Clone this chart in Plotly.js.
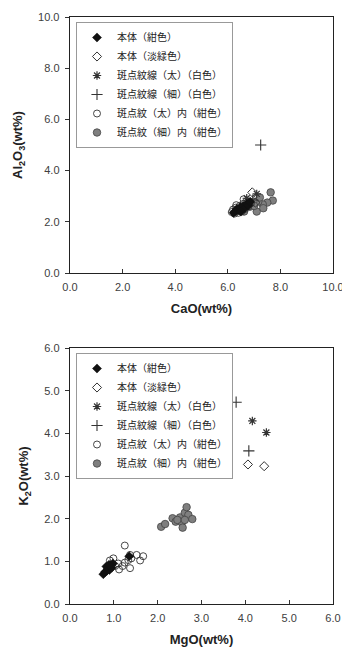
<!DOCTYPE html>
<html>
<head>
<meta charset="utf-8">
<script src="https://cdn.plot.ly/plotly-3.0.1.min.js"></script>
<style>html,body{margin:0;padding:0;background:#fff;}#chart{width:342px;height:650px;}</style>
</head>
<body>
<div id="chart"></div>
<script>
// Series names
const seriesNames = ["本体（紺色）", "本体（淡緑色）", "斑点紋線（太）（白色）", "斑点紋線（細）（白色）", "斑点紋（太）内（紺色）", "斑点紋（細）内（紺色）"];

// Top chart: CaO vs Al2O3
const caoNavy = [6.22, 6.30, 6.35, 6.42, 6.48, 6.55, 6.60, 6.66, 6.72, 6.78, 6.85, 6.50];
const al2o3Navy = [2.35, 2.42, 2.50, 2.45, 2.58, 2.52, 2.62, 2.55, 2.70, 2.64, 2.78, 2.40];
const caoGreen = [6.93, 7.05];
const al2o3Green = [3.15, 2.75];
const caoThickLine = [7.10, 6.72];
const al2o3ThickLine = [3.09, 2.92];
const caoThinLine = [7.25, 6.95];
const al2o3ThinLine = [5.00, 2.85];
const caoThickSpot = [6.15, 6.20, 6.25, 6.30, 6.38, 6.45, 6.52, 6.58, 6.65, 6.70, 6.78, 6.88, 6.40, 6.32, 6.60];
const al2o3ThickSpot = [2.38, 2.48, 2.32, 2.55, 2.45, 2.62, 2.40, 2.70, 2.50, 2.80, 2.60, 2.72, 2.35, 2.65, 2.88];
const caoThinSpot = [7.63, 7.71, 7.50, 7.33, 7.16, 7.10, 6.84, 6.62, 7.35, 6.97, 6.34, 7.00, 7.22];
const al2o3ThinSpot = [3.15, 2.83, 2.75, 2.68, 2.79, 2.40, 2.59, 2.40, 2.53, 2.79, 2.43, 2.62, 2.95];

// Bottom chart: MgO vs K2O
const mgoNavy = [0.76, 0.80, 0.84, 0.86, 0.88, 0.90, 0.92, 0.95, 0.98, 0.83, 0.89, 1.35];
const k2oNavy = [0.70, 0.75, 0.78, 0.82, 0.86, 0.80, 0.90, 0.85, 0.95, 0.88, 0.92, 1.12];
const mgoGreen = [4.06, 4.43];
const k2oGreen = [3.27, 3.23];
const mgoThickLine = [4.16, 4.48];
const k2oThickLine = [4.29, 4.02];
const mgoThinLine = [3.79, 4.08];
const k2oThinLine = [4.73, 3.59];
const mgoThickSpot = [1.25, 1.37, 1.52, 1.67, 1.60, 1.37, 1.25, 1.10, 0.99, 1.20, 1.03, 0.91, 1.12, 1.40, 1.33];
const k2oThickSpot = [1.37, 1.15, 1.15, 1.12, 1.02, 0.84, 0.97, 0.95, 1.07, 0.89, 0.89, 1.02, 0.81, 1.07, 1.03];
const mgoThinSpot = [2.08, 2.17, 2.34, 2.41, 2.51, 2.55, 2.57, 2.62, 2.66, 2.70, 2.79, 2.45, 2.62];
const k2oThinSpot = [1.81, 1.875, 2.01, 1.93, 2.03, 1.91, 1.79, 2.14, 2.27, 2.09, 1.99, 1.97, 1.97];

const xTicksTop = [0, 2, 4, 6, 8, 10];
const xTickLabelsTop = ["0.0", "2.0", "4.0", "6.0", "8.0", "10.0"];
const yTicksTop = [0, 2, 4, 6, 8, 10];
const yTickLabelsTop = ["0.0", "2.0", "4.0", "6.0", "8.0", "10.0"];
const xTicksBot = [0, 1, 2, 3, 4, 5, 6];
const xTickLabelsBot = ["0.0", "1.0", "2.0", "3.0", "4.0", "5.0", "6.0"];
const yTicksBot = [0, 1, 2, 3, 4, 5, 6];
const yTickLabelsBot = ["0.0", "1.0", "2.0", "3.0", "4.0", "5.0", "6.0"];

const styles = [
  {symbol: "diamond", color: "#111", size: 7, line: {color: "#111", width: 0.5}},
  {symbol: "diamond-open", color: "#333", size: 7, line: {color: "#333", width: 1}},
  {symbol: "asterisk-open", color: "#333", size: 7, line: {color: "#333", width: 1.2}},
  {symbol: "cross-thin-open", color: "#333", size: 8, line: {color: "#333", width: 1.1}},
  {symbol: "circle-open", color: "#333", size: 7, line: {color: "#333", width: 0.9}},
  {symbol: "circle", color: "#7f7f7f", size: 7.5, line: {color: "#444", width: 0.8}}
];

const topX = [caoNavy, caoGreen, caoThickLine, caoThinLine, caoThickSpot, caoThinSpot];
const topY = [al2o3Navy, al2o3Green, al2o3ThickLine, al2o3ThinLine, al2o3ThickSpot, al2o3ThinSpot];
const botX = [mgoNavy, mgoGreen, mgoThickLine, mgoThinLine, mgoThickSpot, mgoThinSpot];
const botY = [k2oNavy, k2oGreen, k2oThickLine, k2oThinLine, k2oThickSpot, k2oThinSpot];

const traces = [];
// draw order: gray and open circles first so dark markers sit on top
const order = [5, 4, 1, 2, 3, 0];
order.forEach(i => {
  traces.push({
    type: "scatter", mode: "markers", name: seriesNames[i],
    x: topX[i], y: topY[i], xaxis: "x", yaxis: "y",
    legend: "legend", legendrank: i + 1,
    marker: {symbol: styles[i].symbol, color: styles[i].color, size: styles[i].size, line: styles[i].line}
  });
});
order.forEach(i => {
  traces.push({
    type: "scatter", mode: "markers", name: seriesNames[i],
    x: botX[i], y: botY[i], xaxis: "x2", yaxis: "y2",
    legend: "legend2", legendrank: i + 1,
    marker: {symbol: styles[i].symbol, color: styles[i].color, size: styles[i].size, line: styles[i].line}
  });
});

const tickFont = {family: "Liberation Sans, Arial, sans-serif", size: 11, color: "#404040"};
const titleFont = {family: "Liberation Sans, Arial, sans-serif", size: 13, color: "#222", weight: "bold"};
const legendFont = {family: "Noto Sans CJK JP, sans-serif", size: 10, color: "#222"};

function xAxis(ticks, labels, range, title, anchor) {
  return {
    domain: [70/342, 333/342], anchor: anchor, range: range,
    tickmode: "array", tickvals: ticks, ticktext: labels,
    ticks: "inside", ticklen: 4, tickcolor: "#333", tickwidth: 1,
    ticklabeloverflow: "allow", ticklabelstandoff: 3,
    showline: true, linecolor: "#222", linewidth: 1.3, mirror: true,
    showgrid: false, zeroline: false, tickfont: tickFont,
    title: {text: title, font: titleFont, standoff: 12}
  };
}
function yAxis(domain, ticks, labels, range, title, anchor) {
  return {
    domain: domain, anchor: anchor, range: range,
    tickmode: "array", tickvals: ticks, ticktext: labels,
    ticks: "outside", ticklen: 4, tickcolor: "#333", tickwidth: 1,
    ticklabeloverflow: "allow", ticklabelstandoff: 3,
    showline: true, linecolor: "#222", linewidth: 1.3, mirror: true,
    showgrid: false, zeroline: false, tickfont: tickFont,
    title: {text: title, font: titleFont, standoff: 12}
  };
}

const layout = {
  width: 342, height: 650,
  margin: {l: 0, r: 0, t: 0, b: 0},
  paper_bgcolor: "#fff", plot_bgcolor: "#fff",
  showlegend: true,
  xaxis: xAxis(xTicksTop, xTickLabelsTop, [0, 10], "CaO(wt%)", "y"),
  yaxis: yAxis([(650-273)/650, (650-17)/650], yTicksTop, yTickLabelsTop, [0, 10], "Al<sub>2</sub>O<sub>3</sub>(wt%)", "x"),
  xaxis2: xAxis(xTicksBot, xTickLabelsBot, [0, 6], "MgO(wt%)", "y2"),
  yaxis2: yAxis([(650-604)/650, (650-348)/650], yTicksBot, yTickLabelsBot, [0, 6], "K<sub>2</sub>O(wt%)", "x2"),
  legend: {
    x: 76/342, y: (650-22)/650, xanchor: "left", yanchor: "top",
    bgcolor: "#fff", bordercolor: "#999", borderwidth: 1,
    font: legendFont, tracegroupgap: 0, traceorder: "normal",
    itemwidth: 30
  },
  legend2: {
    x: 76/342, y: (650-353)/650, xanchor: "left", yanchor: "top",
    bgcolor: "#fff", bordercolor: "#999", borderwidth: 1,
    font: legendFont, tracegroupgap: 0, traceorder: "normal",
    itemwidth: 30
  }
};

Plotly.newPlot("chart", traces, layout, {displayModeBar: false, staticPlot: true});
</script>
</body>
</html>
